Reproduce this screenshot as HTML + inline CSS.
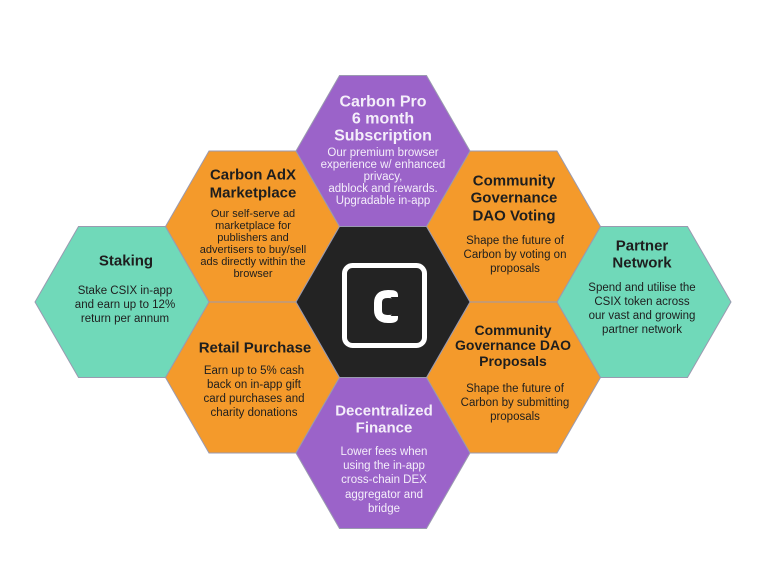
<!DOCTYPE html>
<html><head><meta charset="utf-8"><style>
html,body{margin:0;padding:0;background:#fff;}
svg{display:block}
text{font-family:"Liberation Sans",sans-serif;text-anchor:middle;dominant-baseline:central;}
.t{font-size:15px;font-weight:bold;}
.d{font-size:11.5px;}
.w{fill:#f4eefa}
.k{fill:#1e1e1e}
</style></head><body>
<svg width="768" height="576" viewBox="0 0 768 576">
<defs>
<polygon id="h" points="-87,0 -43.5,-75.5 43.5,-75.5 87,0 43.5,75.5 -43.5,75.5"/>
</defs>
<g stroke="#9a9ab0" stroke-width="1">
<use href="#h" x="122" y="302" fill="#70d9b9"/>
<use href="#h" x="644" y="302" fill="#70d9b9"/>
<use href="#h" x="252.5" y="226.5" fill="#f49a2b"/>
<use href="#h" x="252.5" y="377.5" fill="#f49a2b"/>
<use href="#h" x="513.5" y="226.5" fill="#f49a2b"/>
<use href="#h" x="513.5" y="377.5" fill="#f49a2b"/>
<use href="#h" x="383" y="151" fill="#9b63c9"/>
<use href="#h" x="383" y="453" fill="#9b63c9"/>
<use href="#h" x="383" y="302" fill="#232323"/>
</g>
<rect x="344.5" y="265.5" width="80" height="80" rx="8" fill="none" stroke="#fff" stroke-width="5"/>
<path d="M394,297 V295 Q394,294 388,294 Q378,294 378,303 V310 Q378,319 388,319 Q394,319 394,318 V316" fill="none" stroke="#fff" stroke-width="8"/>

<g class="w">
<text class="t" x="383" y="102" style="font-size:16px">Carbon Pro</text>
<text class="t" x="383" y="119" style="font-size:16px">6 month</text>
<text class="t" x="383" y="136" style="font-size:16px">Subscription</text>
<text class="d" x="383" y="153">Our premium browser</text>
<text class="d" x="383" y="165">experience w/ enhanced</text>
<text class="d" x="383" y="177">privacy,</text>
<text class="d" x="383" y="189">adblock and rewards.</text>
<text class="d" x="383" y="201">Upgradable in-app</text>

<text class="t" x="384" y="411">Decentralized</text>
<text class="t" x="384" y="428">Finance</text>
<text class="d" x="384" y="452">Lower fees when</text>
<text class="d" x="384" y="466">using the in-app</text>
<text class="d" x="384" y="480">cross-chain DEX</text>
<text class="d" x="384" y="495">aggregator and</text>
<text class="d" x="384" y="509">bridge</text>
</g>
<g class="k">
<text class="t" x="253" y="175">Carbon AdX</text>
<text class="t" x="253" y="193">Marketplace</text>
<text class="d" x="253" y="214" style="font-size:11px">Our self-serve ad</text>
<text class="d" x="253" y="226" style="font-size:11px">marketplace for</text>
<text class="d" x="253" y="238" style="font-size:11px">publishers and</text>
<text class="d" x="253" y="250" style="font-size:11px">advertisers to buy/sell</text>
<text class="d" x="253" y="262" style="font-size:11px">ads directly within the</text>
<text class="d" x="253" y="274" style="font-size:11px">browser</text>

<text class="t" x="514" y="181">Community</text>
<text class="t" x="514" y="198">Governance</text>
<text class="t" x="514" y="216">DAO Voting</text>
<text class="d" x="515" y="241">Shape the future of</text>
<text class="d" x="515" y="255">Carbon by voting on</text>
<text class="d" x="515" y="269">proposals</text>

<text class="t" x="255" y="348">Retail Purchase</text>
<text class="d" x="254" y="371">Earn up to 5% cash</text>
<text class="d" x="254" y="385">back on in-app gift</text>
<text class="d" x="254" y="399">card purchases and</text>
<text class="d" x="254" y="413">charity donations</text>

<text class="t" x="513" y="330" style="font-size:14px">Community</text>
<text class="t" x="513" y="345" style="font-size:14px">Governance DAO</text>
<text class="t" x="513" y="361" style="font-size:14px">Proposals</text>
<text class="d" x="515" y="389">Shape the future of</text>
<text class="d" x="515" y="403">Carbon by submitting</text>
<text class="d" x="515" y="417">proposals</text>

<text class="t" x="126" y="261">Staking</text>
<text class="d" x="125" y="291">Stake CSIX in-app</text>
<text class="d" x="125" y="305">and earn up to 12%</text>
<text class="d" x="125" y="319">return per annum</text>

<text class="t" x="642" y="246">Partner</text>
<text class="t" x="642" y="263">Network</text>
<text class="d" x="642" y="288">Spend and utilise the</text>
<text class="d" x="642" y="302">CSIX token across</text>
<text class="d" x="642" y="316">our vast and growing</text>
<text class="d" x="642" y="330">partner network</text>
</g>
</svg>
</body></html>
